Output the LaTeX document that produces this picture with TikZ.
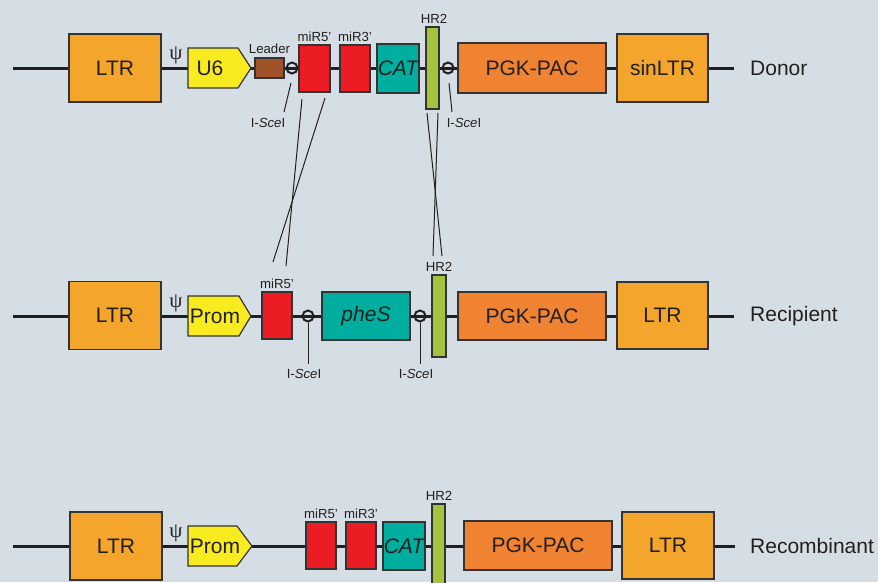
\documentclass[tikz,border=0pt]{standalone}
\usepackage{fontspec}
\setmainfont{Liberation Sans}
\newfontfamily\psifont{Liberation Serif}
\definecolor{bg}{HTML}{D6DEE5}
\definecolor{ltr}{HTML}{F4A52B}
\definecolor{pgk}{HTML}{F08331}
\definecolor{yel}{HTML}{F8EC20}
\definecolor{redb}{HTML}{EB1C24}
\definecolor{teal}{HTML}{00AE9F}
\definecolor{grn}{HTML}{A3C43C}
\definecolor{brn}{HTML}{A0522A}
\definecolor{edge}{HTML}{333333}
\definecolor{line}{HTML}{231F20}
\definecolor{txt}{HTML}{231F20}
\tikzset{
  box/.style={draw=edge, line width=1.2pt, inner sep=0pt, text=txt, font=\fontsize{21}{21}\selectfont},
  small/.style={font=\fontsize{13.2}{13.2}\selectfont, inner sep=0pt, text=txt},
  big/.style={font=\fontsize{21}{21}\selectfont, inner sep=0pt, text=txt},
  psilab/.style={font=\psifont\fontsize{21}{21}\selectfont, inner sep=0pt, text=txt},
  backbone/.style={line width=3pt, draw=line},
  site/.style={circle, draw=line, line width=2pt, minimum size=11pt, inner sep=0pt},
  thinline/.style={line width=1pt, draw=line},
}
\begin{document}
\begin{tikzpicture}[x=1pt,y=-1pt]
\clip (0,0) rectangle (878,582);
\fill[bg] (0,0) rectangle (878,582);

% ================= Donor =================
\coordinate (dS) at (13,68);
\coordinate (dE) at (734,68);
\draw[backbone] (dS) -- (dE);
\node[box, fill=ltr, minimum width=92pt, minimum height=68pt] (dLTR) at (115,68) {LTR};
\node[psilab] (dpsi) at (176,55) {ψ};
\draw[box, fill=yel] (188,48) -- (238,48) -- (251,68) -- (238,88) -- (188,88) -- cycle;
\node[big] (dU6) at (210,68) {U6};
\node[box, fill=brn, minimum width=29pt, minimum height=20pt] (dLead) at (269.5,68) {};
\node[small, anchor=south] (dLeadL) at (269.5,54) {Leader};
\node[site] (dC1) at (292,68) {};
\node[box, fill=redb, minimum width=31pt, minimum height=47pt] (dM5) at (314.5,68.5) {};
\node[small, anchor=south] (dM5L) at (314.5,42) {miR5'};
\node[box, fill=redb, minimum width=30pt, minimum height=47pt] (dM3) at (355,68.5) {};
\node[small, anchor=south] (dM3L) at (355,42) {miR3'};
\node[box, fill=teal, minimum width=42pt, minimum height=49pt, font=\itshape\fontsize{21}{21}\selectfont] (dCAT) at (398,68.5) {CAT};
\node[box, fill=grn, minimum width=13pt, minimum height=82pt] (dHR) at (432.5,68) {};
\node[small, anchor=south] (dHRL) at (434,24) {HR2};
\node[site] (dC2) at (448,68) {};
\node[box, fill=pgk, minimum width=148pt, minimum height=50pt] (dPGK) at (532,68) {PGK-PAC};
\node[box, fill=ltr, minimum width=91pt, minimum height=68pt] (dSin) at (662.5,68) {sinLTR};
\node[big, anchor=west] (dName) at (750,68) {Donor};
% I-SceI marks
\coordinate (dA1) at (291,83);
\coordinate (dA2) at (284,112);
\draw[thinline] (dA1) -- (dA2);
\node[small] (dI1) at (268,123) {I-\textit{Sce}I};
\coordinate (dB1) at (449,83);
\coordinate (dB2) at (452,112);
\draw[thinline] (dB1) -- (dB2);
\node[small] (dI2) at (464,123) {I-\textit{Sce}I};

% ================= crossovers =================
\coordinate (x1a) at (302,99);  \coordinate (x1b) at (286,266);
\coordinate (x2a) at (325,98);  \coordinate (x2b) at (273,262);
\coordinate (x3a) at (427,113); \coordinate (x3b) at (442,256);
\coordinate (x4a) at (438,113); \coordinate (x4b) at (433,256);
\draw[thinline] (x1a) -- (x1b);
\draw[thinline] (x2a) -- (x2b);
\draw[thinline] (x3a) -- (x3b);
\draw[thinline] (x4a) -- (x4b);

% ================= Recipient =================
\coordinate (rS) at (13,316);
\coordinate (rE) at (734,316);
\draw[backbone] (rS) -- (rE);
\node[box, fill=ltr, minimum width=92pt, minimum height=68pt] (rLTR) at (115,315.5) {LTR};
\node[psilab] (rpsi) at (176,303) {ψ};
\draw[box, fill=yel] (188,296) -- (239,296) -- (251,316) -- (239,336) -- (188,336) -- cycle;
\node[big] (rProm) at (215,316) {Prom};
\node[box, fill=redb, minimum width=30pt, minimum height=47pt] (rM5) at (277,315.5) {};
\node[small, anchor=south] (rM5L) at (277,289) {miR5'};
\node[site] (rC1) at (308,316) {};
\node[box, fill=teal, minimum width=88pt, minimum height=48pt, font=\itshape\fontsize{21}{21}\selectfont] (rPheS) at (366,316) {pheS};
\node[site] (rC2) at (420,316) {};
\node[box, fill=grn, minimum width=14pt, minimum height=82pt] (rHR) at (439,316) {};
\node[small, anchor=south] (rHRL) at (439,272) {HR2};
\node[box, fill=pgk, minimum width=148pt, minimum height=48pt] (rPGK) at (532,316) {PGK-PAC};
\node[box, fill=ltr, minimum width=91pt, minimum height=67pt] (rLTR2) at (662.5,315.5) {LTR};
\node[big, anchor=west] (rName) at (750,316) {Recipient};
\coordinate (rA1) at (308,323);
\coordinate (rA2) at (308,364);
\draw[thinline] (rA1) -- (rA2);
\node[small] (rI1) at (304,374) {I-\textit{Sce}I};
\coordinate (rB1) at (420,323);
\coordinate (rB2) at (420,364);
\draw[thinline] (rB1) -- (rB2);
\node[small] (rI2) at (416,374) {I-\textit{Sce}I};

% ================= Recombinant =================
\coordinate (cS) at (13,546);
\coordinate (cE) at (735,546);
\draw[backbone] (cS) -- (cE);
\node[box, fill=ltr, minimum width=92pt, minimum height=68pt] (cLTR) at (116,546) {LTR};
\node[psilab] (cpsi) at (176,533) {ψ};
\draw[box, fill=yel] (188,526) -- (237,526) -- (252,546) -- (237,566) -- (188,566) -- cycle;
\node[big] (cProm) at (215,546) {Prom};
\node[box, fill=redb, minimum width=30pt, minimum height=47pt] (cM5) at (321,545.5) {};
\node[small, anchor=south] (cM5L) at (321,519) {miR5'};
\node[box, fill=redb, minimum width=30pt, minimum height=47pt] (cM3) at (361,545.5) {};
\node[small, anchor=south] (cM3L) at (361,519) {miR3'};
\node[box, fill=teal, minimum width=42pt, minimum height=48pt, font=\itshape\fontsize{21}{21}\selectfont] (cCAT) at (404,546) {CAT};
\node[box, fill=grn, minimum width=13pt, minimum height=100pt] (cHR) at (438.5,554) {};
\node[small, anchor=south] (cHRL) at (439,501) {HR2};
\node[box, fill=pgk, minimum width=148pt, minimum height=49pt] (cPGK) at (538,545.5) {PGK-PAC};
\node[box, fill=ltr, minimum width=92pt, minimum height=67pt] (cLTR2) at (668,545.5) {LTR};
\node[big, anchor=west] (cName) at (750,546) {Recombinant};
\end{tikzpicture}
\end{document}
